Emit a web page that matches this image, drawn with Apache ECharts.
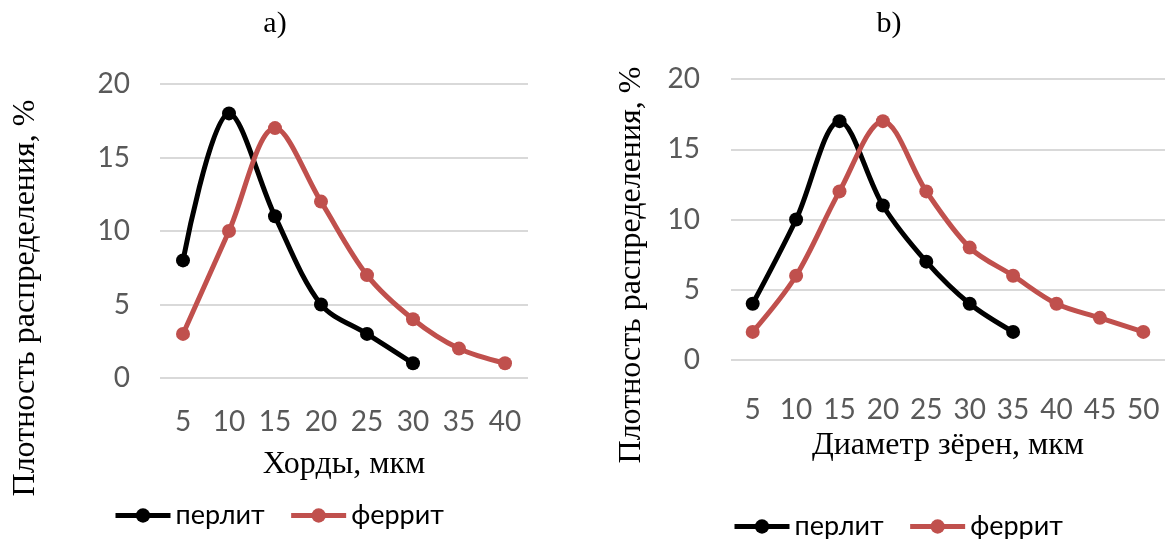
<!DOCTYPE html>
<html>
<head>
<meta charset="utf-8">
<script src="https://cdn.jsdelivr.net/npm/echarts@6/dist/echarts.min.js"></script>
<style>
html,body{margin:0;padding:0;background:#fff;}
#chart{width:1168px;height:539px;}
</style>
</head>
<body>
<div id="chart"></div>
<script>
// ---- data ----
const catA = ['5','10','15','20','25','30','35','40'];
const perlitA = [8,18,11,5,3,1];
const ferritA = [3,10,17,12,7,4,2,1];

const catB = ['5','10','15','20','25','30','35','40','45','50'];
const perlitB = [4,10,17,11,7,4,2];
const ferritB = [2,6,12,17,12,8,6,4,3,2];

const titleA = 'a)';
const titleB = 'b)';
const xNameA = 'Хорды, мкм';
const xNameB = 'Диаметр зёрен, мкм';
const yName = 'Плотность распределения, %';
const seriesNames = ['перлит','феррит'];
const yMin = 0, yMax = 20, yStep = 5;

// ---- styles ----
const BLACK = '#000000';
const RED = '#C0504D';
const SANS = 'Lato, "Open Sans", sans-serif';
const SERIF = '"Liberation Serif", "Times New Roman", serif';
const tickStyle = {color:'#595959', fontFamily:SANS, fontSize:28};

function xAxis(idx, cats, name, labelMargin, nameGap){
  return {
    type:'category', gridIndex:idx, data:cats, boundaryGap:true,
    axisLine:{show:false}, axisTick:{show:false},
    axisLabel:Object.assign({interval:0, margin:labelMargin}, tickStyle),
    name:name, nameLocation:'middle', nameGap:nameGap,
    nameTextStyle:{color:'#000', fontFamily:SERIF, fontSize:32}
  };
}
function yAxis(idx, margin){
  return {
    type:'value', gridIndex:idx, min:yMin, max:yMax, interval:yStep,
    axisLine:{show:false}, axisTick:{show:false},
    axisLabel:Object.assign({margin:margin}, tickStyle),
    splitLine:{lineStyle:{color:'#D9D9D9', width:2}}
  };
}
function line(name, idx, data, color){
  return {
    name:name, type:'line', xAxisIndex:idx, yAxisIndex:idx, data:data,
    smooth:0.33, symbol:'circle', symbolSize:14,
    lineStyle:{color:color, width:5},
    itemStyle:{color:color},
    emphasis:{disabled:true}
  };
}
function legend(left, top){
  return {
    left:left, top:top, data:seriesNames, itemWidth:55, itemHeight:18, itemGap:24,
    lineStyle:{width:5},
    textStyle:{color:'#000', fontFamily:SANS, fontSize:27}
  };
}

const chart = echarts.init(document.getElementById('chart'), null, {renderer:'canvas'});
chart.setOption({
  animation:false,
  backgroundColor:'#fff',
  grid:[
    {left:160, top:84, width:368, height:294},
    {left:731, top:79, width:434, height:281}
  ],
  xAxis:[ xAxis(0, catA, xNameA, 30, 71), xAxis(1, catB, xNameB, 36, 70) ],
  yAxis:[ yAxis(0, 30), yAxis(1, 31) ],
  legend:[ legend(108, 497), legend(727, 508) ],
  series:[
    line(seriesNames[0], 0, perlitA, BLACK),
    line(seriesNames[1], 0, ferritA, RED),
    line(seriesNames[0], 1, perlitB, BLACK),
    line(seriesNames[1], 1, ferritB, RED)
  ],
  graphic:[
    {type:'text', x:275, y:24, style:{text:titleA, fill:'#000', font:'30px '+SERIF, align:'center', verticalAlign:'middle'}},
    {type:'text', x:889, y:24, style:{text:titleB, fill:'#000', font:'30px '+SERIF, align:'center', verticalAlign:'middle'}},
    {type:'text', x:26, y:298, rotation:Math.PI/2, style:{text:yName, fill:'#000', font:'32px '+SERIF, align:'center', verticalAlign:'middle'}},
    {type:'text', x:632, y:265, rotation:Math.PI/2, style:{text:yName, fill:'#000', font:'32px '+SERIF, align:'center', verticalAlign:'middle'}}
  ]
});
</script>
</body>
</html>
